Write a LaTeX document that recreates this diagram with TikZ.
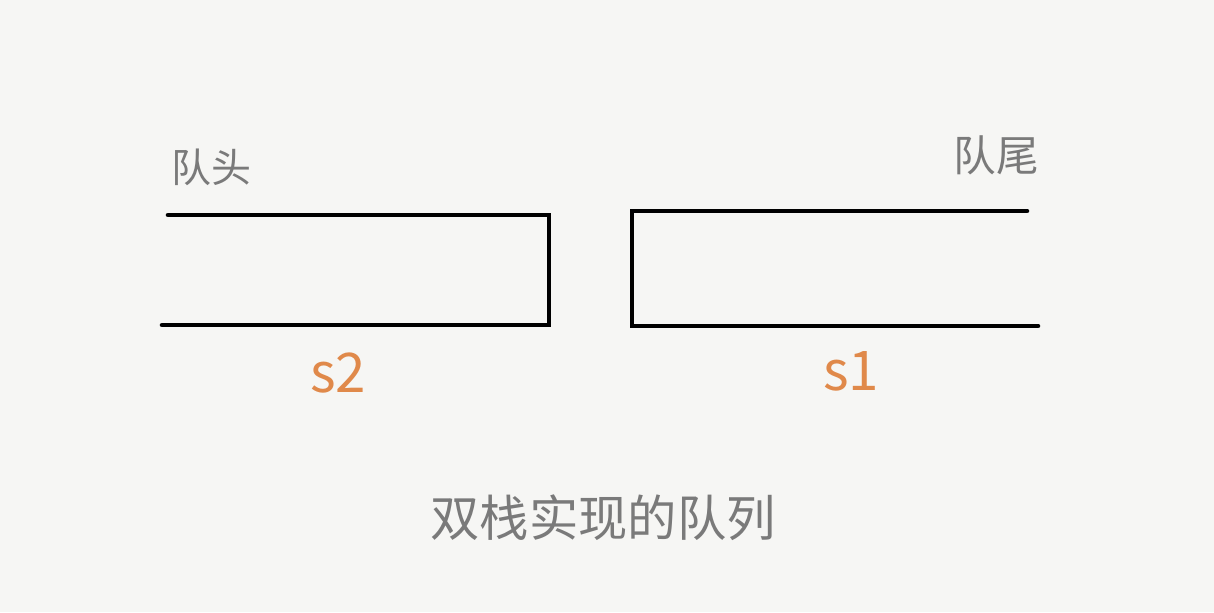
\documentclass[tikz,border=0pt]{standalone}
\usepackage{fontspec}
\setmainfont{Noto Sans CJK SC}
\newfontfamily\cjk{Noto Sans CJK SC}
\definecolor{bgc}{HTML}{F6F6F4}
\definecolor{graytxt}{HTML}{7A7A7A}
\definecolor{orangetxt}{HTML}{E0894A}
\begin{document}
\begin{tikzpicture}[x=0.75pt,y=-0.75pt,
  wall/.style={line width=3.4pt,black,line cap=round,line join=miter},
  lbl/.style={inner sep=0pt,text=graytxt,font=\cjk\fontsize{30}{36}\selectfont},
  lblb/.style={inner sep=0pt,text=graytxt,font=\cjk\fontsize{32}{38}\selectfont},
  stackname/.style={inner sep=0pt,text=orangetxt,font=\cjk\fontsize{41}{48}\selectfont},
  caption/.style={inner sep=0pt,text=graytxt,font=\cjk\fontsize{37}{44}\selectfont}]
\fill[bgc] (0,0) rectangle (1214,612);
\useasboundingbox (0,0) rectangle (1214,612);
% stack s2 (open on the left)
\draw[wall] (168,215) -- (549,215) -- (549,325) -- (162,325);
% stack s1 (open on the right)
\draw[wall] (1027,211) -- (632,211) -- (632,326) -- (1038,326);
\node[lbl] (head) at (211,167) {队头};
\node[lblb] (tail) at (996,155) {队尾};
\node[stackname] (s2) at (338,373) {s2};
\node[stackname] (s1) at (851,371) {s1};
\node[caption] (cap) at (603,518) {双栈实现的队列};
\end{tikzpicture}
\end{document}
